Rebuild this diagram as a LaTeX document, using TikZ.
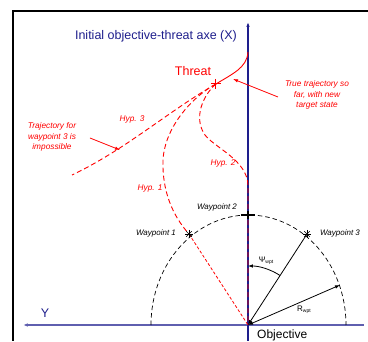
\documentclass[tikz,border=0pt]{standalone}
\usepackage{fontspec}
\setmainfont{Liberation Sans}
\usetikzlibrary{arrows.meta,calc}
\definecolor{axblue}{RGB}{30,30,140}
\definecolor{axblueb}{RGB}{95,95,175}
\definecolor{hred}{RGB}{255,0,0}
\begin{document}
\begin{tikzpicture}[x=1pt,y=-1pt,
  bigtxt/.style={font=\fontsize{12.5}{14}\selectfont, inner sep=0pt},
  smalltxt/.style={font=\fontsize{8.3}{10.5}\selectfont\itshape, inner sep=0pt},
  hypline/.style={hred, line width=0.9pt, dash pattern=on 5pt off 3pt},
  tip/.style={-{Latex[length=5pt,width=3.6pt]}},
  axline/.style={line width=1.3pt}]
\useasboundingbox (0,0) rectangle (368,342);
% frame
\draw[line width=2pt] (13,341) -- (13,11) -- (368,11);
% named points
\coordinate (O) at (248,325);
\coordinate (xtop) at (248,22);
\coordinate (xbot) at (248,341);
\coordinate (yend) at (23,325);
\coordinate (yright) at (364,325);
\coordinate (thr) at (216,84);
\coordinate (wp1) at (189,234);
\coordinate (wp2) at (248,215);
\coordinate (wp3) at (307,234);
\coordinate (rend) at (340,285);
\coordinate (trstart) at (248,52);
\coordinate (h2a) at (205,135);
\coordinate (h2b) at (248,185);
\coordinate (h1a) at (163,160);
\coordinate (h3end) at (72,175);
\coordinate (a1s) at (278,97);
\coordinate (a1e) at (233,79);
\coordinate (a2s) at (90,138);
\coordinate (a2e) at (120,150);
% axes
\draw[axline, axblueb, tip] (yright) -- (yend);
\draw[axline, axblue, tip] (xbot) -- (xtop);
% half circle (dashed)
\draw[black, line width=0.7pt, dash pattern=on 4.5pt off 3pt]
  (151,325) arc[start angle=180, end angle=0, x radius=97.5pt, y radius=110pt];
% hypotheses
\draw[hypline] (thr) .. controls (195,95) and (165,125) .. (h1a)
  .. controls (162,190) and (172,215) .. (wp1);
\draw[hred, line width=0.8pt, dash pattern=on 3pt off 2pt] (wp1) -- (O);
\draw[hypline] (thr) .. controls (203,95) and (193,118) .. (h2a)
  .. controls (215,148) and (247,160) .. (h2b) -- (O);
\draw[hypline] (thr) .. controls (170,110) and (125,150) .. (h3end);
% true trajectory
\draw[hred, line width=0.9pt] (trstart) .. controls (247,68) and (232,74) .. (thr);
% threat marker
\draw[hred, line width=1pt] ($(thr)+(-5,0)$) -- ($(thr)+(5,0)$) ($(thr)+(0,-5)$) -- ($(thr)+(0,5)$);
% annotation arrows
\draw[hred, line width=0.8pt, tip] (a1s) -- (a1e);
\draw[hred, line width=0.8pt, tip] (a2s) -- (a2e);
% waypoint markers
\foreach \p in {wp1,wp3}{
  \foreach \a in {0,45,90,135}
    \draw[black, line width=0.7pt] ($(\p)+(\a:4pt)$) -- ($(\p)+(\a+180:4pt)$);
}
\draw[black, line width=1.4pt] ($(wp2)+(-7,0)$) -- ($(wp2)+(7,0)$);
\draw[black, line width=1.4pt] ($(wp2)+(0,-4)$) -- ($(wp2)+(0,4)$);
% radius and angle
\draw[black, line width=0.8pt, tip] (wp3) -- (O);
\draw[black, line width=0.8pt, {Latex[length=5pt,width=3.6pt]}-{Latex[length=5pt,width=3.6pt]}] (O) -- (rend);
\draw[black, line width=0.8pt, tip] (O) ++(57:59pt) arc[start angle=57, end angle=90, radius=59pt];
% labels
\node[bigtxt, text=axblue] (xlab) at (156,36) {Initial objective-threat axe (X)};
\node[bigtxt, text=hred] (thrlab) at (193,71) {Threat};
\node[smalltxt, text=hred, align=center] (truelab) at (317,95) {True trajectory so\\far, with new\\target state};
\node[smalltxt, text=hred, align=center] (implab) at (52,137) {Trajectory for\\waypoint 3 is\\impossible};
\node[smalltxt, text=hred] (h3lab) at (132,119) {Hyp. 3};
\node[smalltxt, text=hred] (h1lab) at (150,189) {Hyp. 1};
\node[smalltxt, text=hred] (h2lab) at (223,163) {Hyp. 2};
\node[smalltxt, font=\fontsize{8}{10}\selectfont\itshape] (wp2lab) at (217,207) {Waypoint 2};
\node[smalltxt, font=\fontsize{8}{10}\selectfont\itshape] (wp1lab) at (156,233) {Waypoint 1};
\node[smalltxt, font=\fontsize{8}{10}\selectfont\itshape] (wp3lab) at (340,233) {Waypoint 3};
\node[bigtxt, text=axblue] (ylab) at (45,313) {Y};
\node[bigtxt, font=\fontsize{12}{14}\selectfont, anchor=base west] (objlab) at (257,338.5) {Objective};
\node[inner sep=0pt, font=\fontsize{8}{9}\selectfont] (psilab) at (266,261) {Ψ\raisebox{-1.5pt}{\fontsize{5}{5}\selectfont wpt}};
\node[inner sep=0pt, font=\fontsize{8}{9}\selectfont] (rlab) at (304,310) {R\raisebox{-1.5pt}{\fontsize{5}{5}\selectfont wpt}};
\end{tikzpicture}
\end{document}
